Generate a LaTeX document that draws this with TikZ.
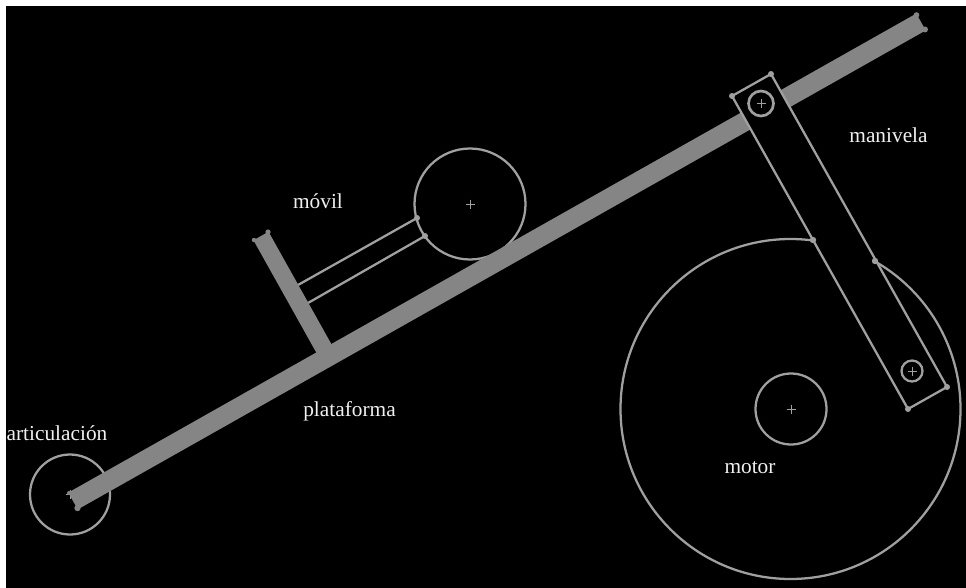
\documentclass[tikz,border=0pt]{standalone}
\usepackage{fontspec}
\setmainfont{Liberation Serif}
\definecolor{barcol}{HTML}{858585}
\definecolor{linecol}{HTML}{A0A0A0}
\definecolor{txtcol}{HTML}{F0F0F0}
\tikzset{
  outline/.style={draw=linecol,line width=1.7pt},
  blacked/.style={outline,fill=black},
  centremark/.style={draw=linecol,line width=.7pt},
  bump/.style={fill=linecol,draw=none},
  barbump/.style={fill=barcol,draw=none},
  lbl/.style={text=txtcol,font=\fontsize{16pt}{18pt}\selectfont,inner sep=0pt,anchor=base}
}
\newcommand{\plusmark}[1]{\draw[centremark] ($(#1)+(-4.5,0)$) -- ($(#1)+(4.5,0)$) ($(#1)+(0,-4.5)$) -- ($(#1)+(0,4.5)$);}
\usetikzlibrary{calc}
\begin{document}
\begin{tikzpicture}[x=.75pt,y=-.75pt]
\useasboundingbox (0,0) rectangle (966,588);
\fill[white] (0,0) rectangle (966,588);
\fill[black] (6,6) rectangle (966,588);
% articulation and wheel
\coordinate (A) at (70,494.5);
\coordinate (W) at (470,204);
\coordinate (M) at (791,409);
\draw[outline] (A) circle (40);
\plusmark{A}
\draw[outline] (W) circle (55.5);
\plusmark{W}
% rods
\coordinate (r1a) at (298,285); \coordinate (r1b) at (417,218);
\coordinate (r2a) at (308,303); \coordinate (r2b) at (425,236);
\draw[outline] (r1a) -- (r1b);
\draw[outline] (r2a) -- (r2b);
\fill[bump] (r1b) circle (3);
\fill[bump] (r2b) circle (3);
% upright bar and platform
\coordinate (ut) at (261,236);
\coordinate (ub) at (327,354);
\coordinate (pl) at (73,501);
\coordinate (pr) at (921,22);
\draw[draw=barcol,line width=13pt] (ut) -- (ub);
\fill[barbump] (254,240) circle (2.2) (268,232) circle (2.6);
\draw[draw=barcol,line width=14.5pt] (pl) -- (pr);
\fill[barbump] (69,493) circle (2) (77.5,508) circle (3.2);
\fill[barbump] (916.5,15) circle (2.8) (925,29.5) circle (3);
% motor
\draw[outline] (790.5,409) circle (170);
\draw[outline] (M) circle (35.5);
\plusmark{M}
% crank
\coordinate (c1) at (732,96);
\coordinate (c2) at (771,74);
\coordinate (c3) at (947,387);
\coordinate (c4) at (908,409);
\fill[barbump] (750,122) circle (3.4) (786,102) circle (3.4);
\draw[blacked] (c1) -- (c2) -- (c3) -- (c4) -- cycle;
\foreach \p in {c1,c2,c3,c4}{\fill[bump] (\p) circle (3);}
\fill[bump] (813,240) circle (3.2) (875,261) circle (3.2);
\coordinate (P1) at (761,103.5);
\coordinate (P2) at (912,371);
\draw[outline,line width=2pt] (P1) circle (12.5);
\plusmark{P1}
\draw[outline] (P2) circle (10.5);
\plusmark{P2}
% labels
\node[lbl] (lm) at (318,208.5) {móvil};
\node[lbl] (lp) at (349.5,416.5) {plataforma};
\node[lbl] (la) at (57,440) {articulación};
\node[lbl] (lc) at (888.5,142.5) {manivela};
\node[lbl] (lo) at (750,473.5) {motor};
\end{tikzpicture}
\end{document}
